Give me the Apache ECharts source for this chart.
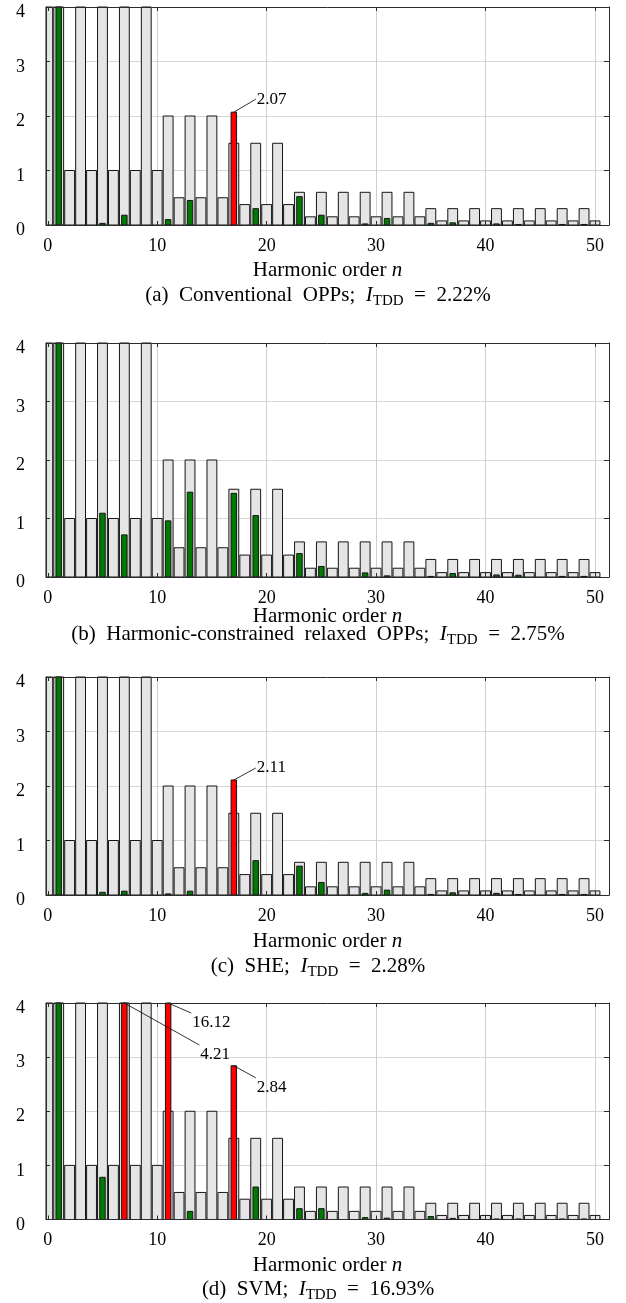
<!DOCTYPE html>
<html>
<head>
<meta charset="utf-8">
<script src="https://cdn.jsdelivr.net/npm/echarts@6/dist/echarts.min.js"></script>
<style>
html,body{margin:0;padding:0;background:#fff;}
#c{width:626px;height:1303px;}
</style>
</head>
<body>
<div id="c"></div>
<script>
// ---------------- DATA ----------------
const harmonicOrder = [0,1,2,3,4,5,6,7,8,9,10,11,12,13,14,15,16,17,18,19,20,21,22,23,24,25,26,27,28,29,30,31,32,33,34,35,36,37,38,39,40,41,42,43,44,45,46,47,48,49,50];

// harmonic limits (%), grey bars
const harmonicLimit = [100,100,1,4,1,4,1,4,1,4,1,2,0.5,2,0.5,2,0.5,1.5,0.375,1.5,0.375,1.5,0.375,0.6,0.15,0.6,0.15,0.6,0.15,0.6,0.15,0.6,0.15,0.6,0.15,0.3,0.075,0.3,0.075,0.3,0.075,0.3,0.075,0.3,0.075,0.3,0.075,0.3,0.075,0.3,0.075];

// (a) Conventional OPPs
const harmonicsConvOPP = [0,100,0,0,0,0.03,0,0.18,0,0,0,0.10,0,0.45,0,0,0,2.07,0,0.30,0,0,0,0.52,0,0.18,0,0,0,0.02,0,0.12,0,0,0,0.03,0,0.04,0,0,0,0.02,0,0.01,0,0,0,0.01,0,0.01,0];
// (b) Harmonic-constrained relaxed OPPs
const harmonicsRelaxedOPP = [0,100,0,0,0,1.09,0,0.72,0,0,0,0.96,0,1.45,0,0,0,1.43,0,1.05,0,0,0,0.40,0,0.18,0,0,0,0.07,0,0.02,0,0,0,0.01,0,0.06,0,0,0,0.035,0,0.03,0,0,0,0.01,0,0.01,0];
// (c) SHE
const harmonicsSHE = [0,100,0,0,0,0.05,0,0.07,0,0,0,0.02,0,0.07,0,0,0,2.11,0,0.63,0,0,0,0.53,0,0.23,0,0,0,0.03,0,0.09,0,0,0,0.01,0,0.04,0,0,0,0.03,0,0.01,0,0,0,0.01,0,0.01,0];
// (d) SVM
const harmonicsSVM = [0,100,0,0,0,0.78,0,4.21,0,0,0,16.12,0,0.15,0,0,0,2.84,0,0.60,0,0,0,0.20,0,0.20,0,0,0,0.035,0,0.025,0,0,0,0.055,0,0.02,0,0,0,0.01,0,0.01,0,0,0,0.01,0,0.01,0];

const xTickValues = [0,10,20,30,40,50];
const xAxisTitle = 'Harmonic order {i|n}';
const captions = [
  '(a)  Conventional  OPPs;  {i|I}{s|TDD}  =  2.22%',
  '(b)  Harmonic-constrained  relaxed  OPPs;  {i|I}{s|TDD}  =  2.75%',
  '(c)  SHE;  {i|I}{s|TDD}  =  2.28%',
  '(d)  SVM;  {i|I}{s|TDD}  =  16.93%'
];
const panelValues = [harmonicsConvOPP, harmonicsRelaxedOPP, harmonicsSHE, harmonicsSVM];

// ---------------- STYLE / LAYOUT ----------------
const FONT = '"Liberation Serif","Times New Roman",serif';
const X_MIN = -0.16, X_MAX = 51.28;
const layout = [
  {top: 7,    height: 218,   xlabelY: 270, captionY: 295},
  {top: 343,  height: 234,   xlabelY: 616, captionY: 634},
  {top: 677,  height: 218,   xlabelY: 941, captionY: 966},
  {top: 1003, height: 216.5, xlabelY: 1265, captionY: 1289}
];
// leader-line offsets for labelled (exceeding) bars: [dx, dy, vertical anchor]
const pinStyle = {
  '0-17': [22, -13, 'middle'],
  '2-17': [22, -12, 'middle'],
  '3-7':  [75, 42, 'top'],
  '3-11': [23, 10, 'top'],
  '3-17': [22, 12, 'top']
};
const FRAME = '#2b2b2b';
const GREY = '#e5e5e5';
const GREEN = '#007a00';
const RED = '#ff0000';
const OUTLINE = '#151515';

function barRenderer(widthUnits, kind) {
  return function (params, api) {
    const n = api.value(0), v = api.value(1), lim = api.value(2);
    if (!(v > 0)) return null;
    const p0 = api.coord([n, 0]);
    const p1 = api.coord([n, v]);
    const w = api.size([widthUnits, 0])[0];
    const cs = params.coordSys;
    const rect = echarts.graphic.clipRectByRect(
      {x: p0[0] - w / 2, y: p1[1], width: w, height: p0[1] - p1[1]},
      {x: cs.x, y: cs.y, width: cs.width, height: cs.height});
    if (!rect) return null;
    let fill = GREY;
    if (kind === 'value') fill = v > lim ? RED : GREEN;
    return {type: 'rect', shape: rect, style: {fill: fill, stroke: OUTLINE, lineWidth: 1}};
  };
}

function pinRenderer(panel) {
  return function (params, api) {
    const n = api.value(0), v = api.value(1), lim = api.value(2);
    const st = pinStyle[panel + '-' + n];
    if (!(v > lim) || !st) return null;
    const cs = params.coordSys;
    const p = api.coord([n, v]);
    const y0 = Math.max(p[1], cs.y);
    const x1 = p[0] + st[0], y1 = y0 + st[1];
    return {type: 'group', children: [
      {type: 'line', shape: {x1: p[0], y1: y0, x2: x1, y2: y1}, style: {stroke: '#000', lineWidth: 0.8}},
      {type: 'text', style: {text: v.toFixed(2), x: x1 + 1, y: st[2] === 'top' ? y1 + 1 : y1,
        font: '17px ' + FONT, fill: '#000', align: 'left', verticalAlign: st[2]}}
    ]};
  };
}

const grids = [], xAxes = [], yAxes = [], series = [], graphics = [];
const richCommon = {
  i: {fontFamily: FONT, fontSize: 21, fontStyle: 'italic', lineHeight: 28},
  s: {fontFamily: FONT, fontSize: 15, lineHeight: 15, verticalAlign: 'bottom'}
};

layout.forEach((L, i) => {
  grids.push({left: 46, width: 563, top: L.top, height: L.height, outerBoundsMode: 'none'});
  const xi = xAxes.length, yi = yAxes.length;
  const common = {gridIndex: i, type: 'value', min: X_MIN, max: X_MAX};
  xAxes.push(Object.assign({}, common, {position: 'bottom', z: 10,
    axisLine: {show: true, onZero: false, lineStyle: {color: FRAME, width: 1}},
    axisTick: {show: true, inside: true, length: 4, customValues: xTickValues, lineStyle: {color: FRAME}},
    axisLabel: {show: true, customValues: xTickValues, margin: 12, fontFamily: FONT, fontSize: 18, color: '#000'},
    splitLine: {show: false}}));
  xAxes.push(Object.assign({}, common, {position: 'top', z: 10,
    axisLine: {show: true, onZero: false, lineStyle: {color: FRAME, width: 1}},
    axisTick: {show: true, inside: true, length: 4, customValues: xTickValues, lineStyle: {color: FRAME}},
    axisLabel: {show: false, customValues: xTickValues},
    splitLine: {show: false}}));
  xAxes.push(Object.assign({}, common, {position: 'bottom', z: 0,
    axisLine: {show: false}, axisTick: {show: false, customValues: xTickValues},
    axisLabel: {show: false, customValues: xTickValues},
    splitLine: {show: true, lineStyle: {color: '#cfcfcf', width: 1}}}));

  const ycommon = {gridIndex: i, type: 'value', min: 0, max: 4, interval: 1};
  yAxes.push(Object.assign({}, ycommon, {position: 'left', z: 10,
    axisLine: {show: true, onZero: false, lineStyle: {color: FRAME, width: 1}},
    axisTick: {show: true, inside: true, length: 4, lineStyle: {color: FRAME}},
    axisLabel: {show: true, margin: 21, fontFamily: FONT, fontSize: 18, color: '#000',
      verticalAlign: 'top', lineHeight: 11},
    splitLine: {show: false}}));
  yAxes.push(Object.assign({}, ycommon, {position: 'right', z: 10,
    axisLine: {show: true, onZero: false, lineStyle: {color: FRAME, width: 1}},
    axisTick: {show: true, inside: true, length: 5, lineStyle: {color: FRAME}},
    axisLabel: {show: false}, splitLine: {show: false}}));
  yAxes.push(Object.assign({}, ycommon, {position: 'left', z: 0,
    axisLine: {show: false}, axisTick: {show: false}, axisLabel: {show: false},
    splitLine: {show: true, lineStyle: {color: '#d6d6d6', width: 1}}}));

  const vals = panelValues[i];
  const limData = harmonicOrder.map((n, k) => [n, harmonicLimit[k], harmonicLimit[k]]);
  const valData = harmonicOrder.map((n, k) => [n, vals[k], harmonicLimit[k]]);
  series.push({type: 'custom', xAxisIndex: xi, yAxisIndex: yi, z: 2, silent: true,
    renderItem: barRenderer(0.9, 'limit'), data: limData, encode: {x: 0, y: 1}});
  series.push({type: 'custom', xAxisIndex: xi, yAxisIndex: yi, z: 3, silent: true,
    renderItem: barRenderer(0.5, 'value'), data: valData, encode: {x: 0, y: 1}});
  series.push({type: 'custom', xAxisIndex: xi, yAxisIndex: yi, z: 4, silent: true,
    renderItem: pinRenderer(i), data: valData, encode: {x: 0, y: 1}});

  graphics.push({type: 'text', x: 327.5, y: L.xlabelY, z: 20,
    style: {text: xAxisTitle, font: '21px ' + FONT, fill: '#000', align: 'center', verticalAlign: 'middle',
      lineHeight: 28, rich: richCommon}});
  graphics.push({type: 'text', x: 318, y: L.captionY, z: 20,
    style: {text: captions[i], font: '21px ' + FONT, fill: '#000', align: 'center', verticalAlign: 'middle',
      lineHeight: 28, rich: richCommon}});
});

const chart = echarts.init(document.getElementById('c'), null, {renderer: 'canvas'});
chart.setOption({
  animation: false,
  backgroundColor: '#fff',
  grid: grids, xAxis: xAxes, yAxis: yAxes, series: series, graphic: graphics
});
</script>
</body>
</html>
